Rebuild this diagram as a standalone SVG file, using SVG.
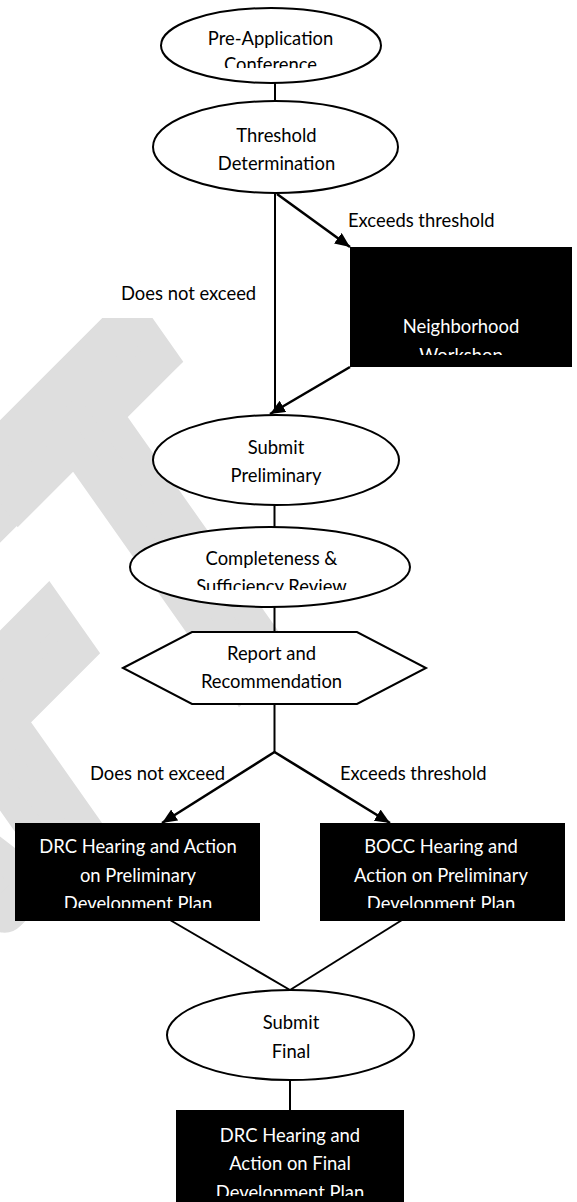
<svg xmlns="http://www.w3.org/2000/svg" width="577" height="1202" viewBox="0 0 577 1202">
<style>
text{font-family:Lato,"Liberation Sans",sans-serif;font-size:18.4px;}
.t{text-anchor:middle;fill:#000}
.w{text-anchor:middle;fill:#fff}
.lbl{fill:#000}
.el{fill:#fff;stroke:#000;stroke-width:2}
.box{fill:#000}
.ln{stroke:#000;stroke-width:2;fill:none}
.ar{stroke:#000;stroke-width:2.6;fill:none;marker-end:url(#ah)}
.wm{font-family:Lato,"Liberation Sans",sans-serif;font-weight:bold;font-size:100px;fill:#dedede;stroke:#dedede;stroke-width:8;stroke-linejoin:miter;text-anchor:end}
</style>
<defs>
<marker id="ah" markerUnits="userSpaceOnUse" markerWidth="16" markerHeight="14" refX="15" refY="6.5" orient="auto"><path d="M0,0 L15,6.5 L0,13 z" fill="#000"/></marker>
<clipPath id="cPre"><rect x="150" y="0" width="250" height="68"/></clipPath>
<clipPath id="cNei"><rect x="350" y="247" width="222" height="108"/></clipPath>
<clipPath id="cCom"><rect x="130" y="527" width="280" height="63"/></clipPath>
<clipPath id="cDrc"><rect x="15" y="823" width="245" height="85"/></clipPath>
<clipPath id="cBocc"><rect x="320" y="823" width="245" height="85"/></clipPath>
<clipPath id="cFin"><rect x="176" y="1110" width="228" height="86"/></clipPath>
</defs>

<g id="watermark">
<text class="wm" transform="matrix(2.546 -2.546 2.707 3.845 331.8 588.3)" x="0" y="0">DRAFT</text>
</g>

<g id="label-noexceed-1">
<rect x="100" y="276" width="160" height="42" fill="#fff"/>
<text class="lbl" x="121" y="300">Does not exceed</text>
</g>
<g id="label-exceeds-1"><text class="lbl" x="348" y="227">Exceeds threshold</text></g>
<g id="label-noexceed-2"><text class="lbl" x="90" y="780">Does not exceed</text></g>
<g id="label-exceeds-2"><text class="lbl" x="340" y="780">Exceeds threshold</text></g>

<g id="connectors">
<line class="ln" x1="275" y1="83" x2="275" y2="101"/>
<line class="ln" x1="275" y1="193" x2="275" y2="412"/>
<line class="ar" x1="277" y1="194" x2="350" y2="247"/>
<line class="ar" x1="350" y1="367" x2="270" y2="414"/>
<line class="ln" x1="274.5" y1="505" x2="274.5" y2="527"/>
<line class="ln" x1="274.5" y1="607" x2="274.5" y2="632"/>
<line class="ln" x1="274.5" y1="704" x2="274.5" y2="752"/>
<line class="ar" x1="274.5" y1="752" x2="162" y2="823"/>
<line class="ar" x1="274.5" y1="752" x2="390" y2="823"/>
<line class="ln" x1="170" y1="920" x2="290" y2="990"/>
<line class="ln" x1="402" y1="920" x2="290" y2="990"/>
<line class="ln" x1="290" y1="1080" x2="290" y2="1110"/>
</g>

<g id="pre-application">
<ellipse class="el" cx="271" cy="45.5" rx="110" ry="37.5"/>
<text class="t" x="270.5" y="45">Pre-Application</text>
<text class="t" x="270.5" y="71" clip-path="url(#cPre)">Conference</text>
</g>

<g id="threshold">
<ellipse class="el" cx="275.5" cy="147" rx="122.5" ry="46"/>
<text class="t" x="276.5" y="142">Threshold</text>
<text class="t" x="276.5" y="170">Determination</text>
</g>

<g id="neighborhood">
<rect class="box" x="350" y="247" width="222" height="120"/>
<text class="w" x="461" y="333">Neighborhood</text>
<text class="w" x="461" y="361.5" clip-path="url(#cNei)">Workshop</text>
</g>

<g id="submit-preliminary">
<ellipse class="el" cx="276" cy="460" rx="123" ry="45"/>
<text class="t" x="276" y="454">Submit</text>
<text class="t" x="276" y="482">Preliminary</text>
</g>

<g id="completeness">
<ellipse class="el" cx="270" cy="567" rx="140" ry="40"/>
<text class="t" x="271.5" y="565">Completeness &amp;</text>
<text class="t" x="271.5" y="593" clip-path="url(#cCom)">Sufficiency Review</text>
</g>

<g id="report">
<polygon class="el" points="123,668 192,632 357,632 426,668 357,704 192,704"/>
<text class="t" x="271.5" y="660">Report and</text>
<text class="t" x="271.5" y="688">Recommendation</text>
</g>

<g id="drc-preliminary">
<rect class="box" x="15" y="823" width="245" height="98"/>
<text class="w" x="138" y="853">DRC Hearing and Action</text>
<text class="w" x="138" y="881.5">on Preliminary</text>
<text class="w" x="138" y="910" clip-path="url(#cDrc)">Development Plan</text>
</g>

<g id="bocc-preliminary">
<rect class="box" x="320" y="823" width="245" height="98"/>
<text class="w" x="441" y="853">BOCC Hearing and</text>
<text class="w" x="441" y="881.5">Action on Preliminary</text>
<text class="w" x="441" y="910" clip-path="url(#cBocc)">Development Plan</text>
</g>

<g id="submit-final">
<ellipse class="el" cx="290.5" cy="1035" rx="123.5" ry="45"/>
<text class="t" x="291" y="1029">Submit</text>
<text class="t" x="291" y="1058">Final</text>
</g>

<g id="drc-final">
<rect class="box" x="176" y="1110" width="228" height="92"/>
<text class="w" x="290" y="1141.5">DRC Hearing and</text>
<text class="w" x="290" y="1170">Action on Final</text>
<text class="w" x="290" y="1198.5" clip-path="url(#cFin)">Development Plan</text>
</g>
</svg>
